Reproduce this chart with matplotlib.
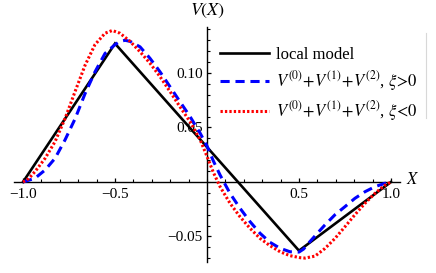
import matplotlib
matplotlib.use("Agg")
import matplotlib.pyplot as plt
from matplotlib.ticker import MultipleLocator, FixedLocator, FixedFormatter
from matplotlib.lines import Line2D

plt.rcParams['font.family'] = ['Liberation Serif', 'DejaVu Serif']
plt.rcParams['mathtext.fontset'] = 'stix'

# ---- data ----
x_local = [-1.0, -0.5, 0.5, 1.0]
v_local = [0.0, 0.127, -0.063, 0.0]

x_pos = [-1.0, -0.935, -0.88, -0.826, -0.772, -0.717, -0.663, -0.609, -0.554, -0.5,
         -0.473, -0.445, -0.418, -0.364, -0.31, -0.255, -0.201, -0.147, -0.092, -0.038,
         0.0, 0.034, 0.071, 0.125, 0.179, 0.234, 0.288, 0.342, 0.397, 0.451,
         0.5, 0.525, 0.55, 0.6, 0.641, 0.696, 0.75, 0.804, 0.859, 0.913, 0.967, 1.0]
v_pos = [0.0, 0.0034, 0.011, 0.0217, 0.0385, 0.058, 0.081, 0.101, 0.118, 0.126,
         0.129, 0.130, 0.129, 0.124, 0.1135, 0.101, 0.0874, 0.0737, 0.060, 0.045,
         0.033, 0.0195, 0.0064, -0.0104, -0.024, -0.0364, -0.047, -0.0553, -0.0608, -0.064,
         -0.0643, -0.0615, -0.0565, -0.047, -0.0394, -0.030, -0.0226, -0.015, -0.0089, -0.0043, -0.0012, 0.0]

x_neg = [-1.0, -0.97, -0.935, -0.88, -0.826, -0.772, -0.717, -0.663, -0.609, -0.554,
         -0.515, -0.473, -0.418, -0.364, -0.31, -0.255, -0.201, -0.147, -0.092, -0.038,
         0.0, 0.034, 0.071, 0.125, 0.179, 0.234, 0.288, 0.342, 0.397, 0.451,
         0.505, 0.533, 0.587, 0.641, 0.696, 0.75, 0.804, 0.859, 0.913, 0.967, 1.0]
v_neg = [0.0, 0.003, 0.0095, 0.0217, 0.037, 0.058, 0.083, 0.107, 0.126, 0.1365,
         0.139, 0.1365, 0.129, 0.1195, 0.109, 0.0966, 0.083, 0.069, 0.0553, 0.039,
         0.0235, 0.009, -0.0043, -0.0195, -0.0318, -0.0425, -0.0517, -0.0584, -0.064, -0.0676,
         -0.0694, -0.0698, -0.068, -0.061, -0.0517, -0.041, -0.030, -0.0195, -0.0104, -0.003, 0.0]

x_ticks = [-1.0, -0.5, 0.5, 1.0]
x_ticklabels = ['\u22121.0', '\u22120.5', '0.5', '1.0']
y_ticks = [-0.05, 0.05, 0.10]
y_ticklabels = ['\u22120.05', '0.05', '0.10']

labels = ['local model',
          r'$V^{(0)}\!+\!V^{(1)}\!+\!V^{(2)}$, $\xi\!>\!0$',
          r'$V^{(0)}\!+\!V^{(1)}\!+\!V^{(2)}$, $\xi\!<\!0$']

# ---- figure ----
W, H = 436, 273
fig = plt.figure(figsize=(W / 100, H / 100), dpi=100)
ax = fig.add_axes([14 / W, (H - 262) / H, 386 / W, 235 / H])
ax.set_xlim(-1.049, 1.049)
ax.set_ylim(-0.0734, 0.1422)

l1, = ax.plot(x_local, v_local, color='black', lw=1.9, solid_joinstyle='miter', zorder=3)
l2, = ax.plot(x_pos, v_pos, color=(0, 0, 1), lw=2.2, linestyle=(0, (3.0, 1.9)), zorder=4)
l3, = ax.plot(x_neg, v_neg, color=(1, 0, 0), lw=2.2, linestyle=(0, (0.75, 0.7)), zorder=5)

for s in ['top', 'right']:
    ax.spines[s].set_visible(False)
ax.spines['left'].set_position(('data', 0))
ax.spines['bottom'].set_position(('data', 0))
for s in ['left', 'bottom']:
    ax.spines[s].set_linewidth(1.0)
    ax.spines[s].set_zorder(2)
ax.set_axisbelow(True)

ax.xaxis.set_major_locator(FixedLocator(x_ticks))
ax.xaxis.set_major_formatter(FixedFormatter(x_ticklabels))
ax.xaxis.set_minor_locator(MultipleLocator(0.1))
ax.yaxis.set_major_locator(FixedLocator(y_ticks))
ax.yaxis.set_major_formatter(FixedFormatter(y_ticklabels))
ax.yaxis.set_minor_locator(MultipleLocator(0.01))
ax.tick_params(axis='x', which='both', direction='in', pad=4, labelsize=11)
ax.tick_params(axis='y', which='both', direction='in', pad=3, labelsize=11)
ax.tick_params(which='major', length=3.2, width=0.9)
ax.tick_params(which='minor', length=2.2, width=0.8)
ax.patch.set_alpha(0)

fig.text(208 / W, 1 - 11 / H, r'$V(X)$', fontsize=13, ha='center', va='center')
fig.text(413 / W, 1 - 180 / H, r'$X$', fontsize=12, ha='center', va='center')

leg = ax.legend([l1, l2, l3], labels, loc='upper left',
                bbox_to_anchor=(220 / W, 1 - 47 / H), bbox_transform=fig.transFigure,
                frameon=False, fontsize=12, handlelength=2.93, handletextpad=0.42,
                labelspacing=0.36, borderpad=0, borderaxespad=0)

fig.add_artist(Line2D([426 / W, 426 / W], [1 - 33 / H, 1 - 118 / H],
                      transform=fig.transFigure, color='#d8d8d8', lw=0.8))

fig.savefig('out.png', dpi=100)
